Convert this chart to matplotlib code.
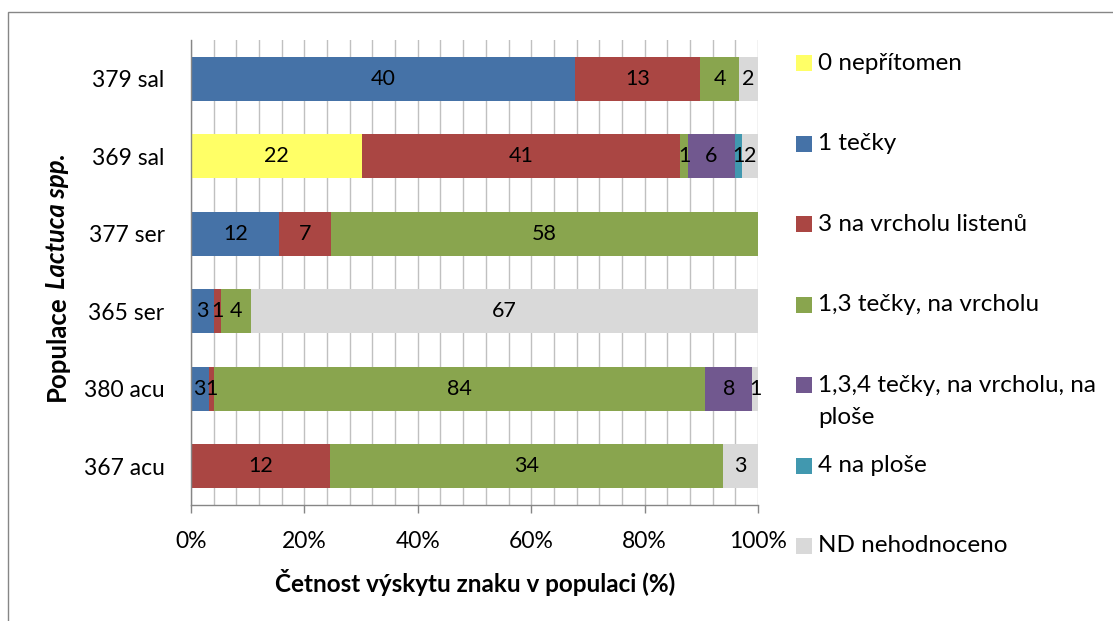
import matplotlib
matplotlib.use('Agg')
import matplotlib.pyplot as plt
from matplotlib.patches import Rectangle
import numpy as np

FONT = 'Lato'
plt.rcParams['font.family'] = [FONT, 'DejaVu Sans']

# ---- data ----
populations = ['379 sal', '369 sal', '377 ser', '365 ser', '380 acu', '367 acu']
series_names = ['0 nepřítomen', '1 tečky', '3 na vrcholu listenů',
                '1,3 tečky, na vrcholu', '1,3,4 tečky, na vrcholu, na\nploše',
                '4 na ploše', 'ND nehodnoceno']
counts_0 = [0, 22, 0, 0, 0, 0]
counts_1 = [40, 0, 12, 3, 3, 0]
counts_3 = [13, 41, 7, 1, 1, 12]
counts_13 = [4, 1, 58, 4, 84, 34]
counts_134 = [0, 6, 0, 0, 8, 0]
counts_4 = [0, 1, 0, 0, 0, 0]
counts_nd = [2, 2, 0, 67, 1, 3]
series_colors = ['#FFFF66', '#4572A7', '#AA4643', '#89A54E', '#71588F', '#4198AF', '#D9D9D9']

x_ticks = [0, 20, 40, 60, 80, 100]
x_ticklabels = ['0%', '20%', '40%', '60%', '80%', '100%']
x_title = 'Četnost výskytu znaku v populaci (%)'
y_title_plain = 'Populace'
y_title_italic = 'Lactuca spp.'

all_counts = np.array([counts_0, counts_1, counts_3, counts_13, counts_134, counts_4, counts_nd], dtype=float)
totals = all_counts.sum(axis=0)
percents = all_counts / totals * 100

W, H = 1113, 621
fig = plt.figure(figsize=(W / 100, H / 100), dpi=100)
fig.patch.set_facecolor('white')

def fx(px):
    return px / W

def fy(py):
    return 1 - py / H

ax = fig.add_axes([fx(191), fy(505), fx(758) - fx(191), fy(40) - fy(505)])

FS_LAB = 15.5
FS_TICK = 16.5
FS_LEG = 17.5
FS_TITLE = 17.5
FS_YTITLE = 18.5

y = np.arange(len(populations))
left = np.zeros(len(populations))
for i, (name, col) in enumerate(zip(series_names, series_colors)):
    ax.barh(y, percents[i], left=left, height=0.57, color=col, edgecolor='none', zorder=2)
    for j in range(len(populations)):
        if all_counts[i, j] > 0:
            ax.text(left[j] + percents[i, j] / 2, y[j], f'{int(all_counts[i, j])}',
                    ha='center', va='center', fontsize=FS_LAB, color='black', zorder=3)
    left += percents[i]

ax.set_xlim(0, 100)
ax.set_ylim(len(populations) - 0.5, -0.5)
ax.set_yticks(y)
ax.set_yticklabels(populations, fontsize=FS_TICK)
ax.set_xticks(x_ticks)
ax.set_xticklabels(x_ticklabels, fontsize=FS_TICK)
ax.set_xticks(np.arange(0, 101, 4), minor=True)
ax.tick_params(axis='y', length=0, pad=19)
ax.tick_params(axis='x', which='major', length=6, width=1, color='#868686', pad=13, direction='out')
ax.tick_params(axis='x', which='minor', length=0)
ax.xaxis.grid(True, which='both', color='#C0C0C0', linewidth=1, zorder=0)
ax.set_axisbelow(True)
for s in ['top', 'right']:
    ax.spines[s].set_visible(False)
for s in ['left', 'bottom']:
    ax.spines[s].set_color('#868686')
    ax.spines[s].set_linewidth(1)

fig.text(fx(475), fy(583), x_title, ha='center', va='center', fontsize=FS_TITLE, fontweight='bold')

# y title: bold + bold italic, stacked along rotated baseline
renderer = fig.canvas.get_renderer()
t1 = fig.text(fx(57), 0, y_title_plain, rotation=90, ha='center', va='bottom',
              fontsize=FS_YTITLE, fontweight='bold')
t2 = fig.text(fx(57), 0, y_title_italic, rotation=90, ha='center', va='bottom',
              fontsize=FS_YTITLE, fontweight='bold', fontstyle='italic')
h1 = t1.get_window_extent(renderer).height
h2 = t2.get_window_extent(renderer).height
space = FS_YTITLE * 100 / 72 * 0.25
total = h1 + space + h2
center_px = H - 277
y0 = center_px - total / 2
t1.set_y(y0 / H)
t2.set_y((y0 + h1 + space) / H)

# legend (manual)
leg_y0, leg_dy = 63, 80.5
for i, (name, col) in enumerate(zip(series_names, series_colors)):
    cy = leg_y0 + i * leg_dy
    fig.patches.append(Rectangle((fx(796), fy(cy + 8)), fx(16), fy(0) - fy(16),
                                 transform=fig.transFigure, facecolor=col, edgecolor='none'))
    for k, line in enumerate(name.split('\n')):
        fig.text(fx(818), fy(cy + k * 32), line, ha='left', va='center', fontsize=FS_LEG)

# chart area border
fig.patches.append(Rectangle((fx(7.5), fy(640)), fx(1200), fy(12) - fy(640),
                             transform=fig.transFigure, fill=False, edgecolor='#868686', linewidth=1))

fig.savefig('out.png', dpi=100)
